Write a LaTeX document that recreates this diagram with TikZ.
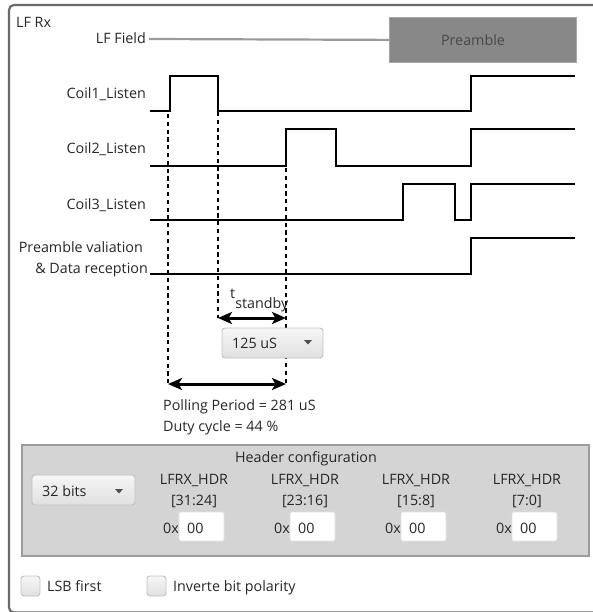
\documentclass[tikz,border=0pt]{standalone}
\usepackage{fontspec}
\setmainfont{Open Sans}
\usetikzlibrary{arrows.meta}
\definecolor{txt}{HTML}{262626}
\definecolor{framec}{HTML}{6A6A6A}
\definecolor{panelfill}{HTML}{D4D4D4}
\definecolor{panelline}{HTML}{9C9C9C}
\definecolor{preamblefill}{HTML}{888888}
\definecolor{fieldline}{HTML}{9A9A9A}
\definecolor{ctrlline}{HTML}{C0C0C0}
\definecolor{ctrltop}{HTML}{F6F6F6}
\definecolor{ctrlbot}{HTML}{E0E0E0}
\definecolor{tri}{HTML}{505050}
\begin{document}
\begin{tikzpicture}[x=1pt,y=-1pt,
  font=\fontsize{14.3}{16}\selectfont,
  every node/.style={text=txt, inner sep=0pt},
  lbl/.style={anchor=base east},
  txtl/.style={anchor=base west},
  txtc/.style={anchor=base},
  sig/.style={line width=2.8pt, black, line join=miter},
  guide/.style={line width=2.6pt, black, dash pattern=on 4.2pt off 3.6pt},
  dimarrow/.style={line width=3pt, black, {Stealth[length=14pt,width=12pt,inset=3.5pt]}-{Stealth[length=14pt,width=12pt,inset=3.5pt]}},
  ctrl/.style={draw=ctrlline, line width=0.9pt, top color=ctrltop, bottom color=ctrlbot, rounded corners=3pt},
  entry/.style={draw=white!88!black, line width=0.6pt, fill=white, rounded corners=2pt},
  tribox/.style={fill=tri}
]
\useasboundingbox (0,0) rectangle (593,612);

% outer frame
\draw[framec, line width=2.2pt, rounded corners=5pt] (9,5) rectangle (640,612.5);
\node[txtl] (title) at (16,28) {LF Rx};

% LF field and preamble
\node[lbl] (lff) at (146,44) {LF Field};
\node[draw=white!65!black, line width=0.8pt, fill=preamblefill, minimum width=187pt, minimum height=45pt, anchor=north west] (pbox) at (389,17) {};
\node[txtc, text=black!72] (ptext) at (473,46) {Preamble};
\draw[fieldline, line width=2.2pt] (lff.base east) ++(3,-5) coordinate (lfs) -- (pbox.west);

% signal labels
\node[lbl] (c1) at (146,99) {Coil1\_Listen};
\node[lbl] (c2) at (146,154) {Coil2\_Listen};
\node[lbl] (c3) at (146,209) {Coil3\_Listen};
\node[lbl] (pv1) at (143,252) {Preamble valiation};
\node[lbl] (pv2) at (148,273) {\& Data reception};

% guide lines (dotted)
\coordinate (g1a) at (168,114);
\coordinate (g1b) at (168,384);
\coordinate (g2a) at (218,112);
\coordinate (g2b) at (218,318);
\coordinate (g3a) at (286,168);
\coordinate (g3b) at (286,384);
\draw[guide] (g1a) -- (g1b);
\draw[guide] (g2a) -- (g2b);
\draw[guide] (g3a) -- (g3b);

% signals
\draw[sig] (150,111) -- (170,111) -- (170,76) -- (218,76) -- (218,111) -- (471,111) -- (471,76) -- (575,76);
\draw[sig] (150,166) -- (286,166) -- (286,129) -- (336,129) -- (336,166) -- (471,166) -- (471,129) -- (575,129);
\draw[sig] (150,220) -- (403,220) -- (403,184) -- (455,184) -- (455,220) -- (471,220) -- (471,184) -- (575,184);
\draw[sig] (150,274) -- (471,274) -- (471,238) -- (575,238);

% t standby
\node[txtl] (tsb) at (230,298) {t\raisebox{-10pt}{standby}};
\draw[dimarrow] (g2b) -- (g3a |- g2b);

% 125 uS dropdown
\path[ctrl] (222,328) rectangle (323,358);
\node[txtl] (dd1) at (232,348) {125 uS};
\fill[tribox] (304,340) -- (312,340) -- (308,344.5) -- cycle;

% polling arrow
\draw[dimarrow] (g1b) -- (g3b);
\node[txtl] (poll) at (163,410) {Polling Period = 281 uS};
\node[txtl] (duty) at (163,431) {Duty cycle = 44 \%};

% header panel
\path[draw=panelline, fill=panelfill, line width=1.6pt] (22,445) rectangle (589,556);
\node[txtc] (hc) at (306,462) {Header configuration};
\path[ctrl] (32,475) rectangle (135,505);
\node[txtl] (bits) at (42,496) {32 bits};
\fill[tribox] (115,489) -- (123,489) -- (119,493.5) -- cycle;

\foreach \i/\r in {0/{[31:24]},1/{[23:16]},2/{[15:8]},3/{[7:0]}}{
  \pgfmathsetmacro{\bx}{179+111*\i}
  \pgfmathsetmacro{\cx}{194+111*\i}
  \node[txtc] (h\i) at (\cx,484) {LFRX\_HDR};
  \node[txtc] (r\i) at (\cx,505) {\r};
  \path[entry] (\bx,512) rectangle ++(45,29);
  \node[txtl] (ox\i) at (\bx-16,533) {0x};
  \node[txtl] (v\i) at (\bx+8,533) {00};
}

% checkboxes
\path[ctrl] (21,576) rectangle (40,596);
\node[txtl] (lsb) at (47,591) {LSB first};
\path[ctrl] (147,576) rectangle (166,596);
\node[txtl] (inv) at (173,591) {Inverte bit polarity};
\end{tikzpicture}
\end{document}
